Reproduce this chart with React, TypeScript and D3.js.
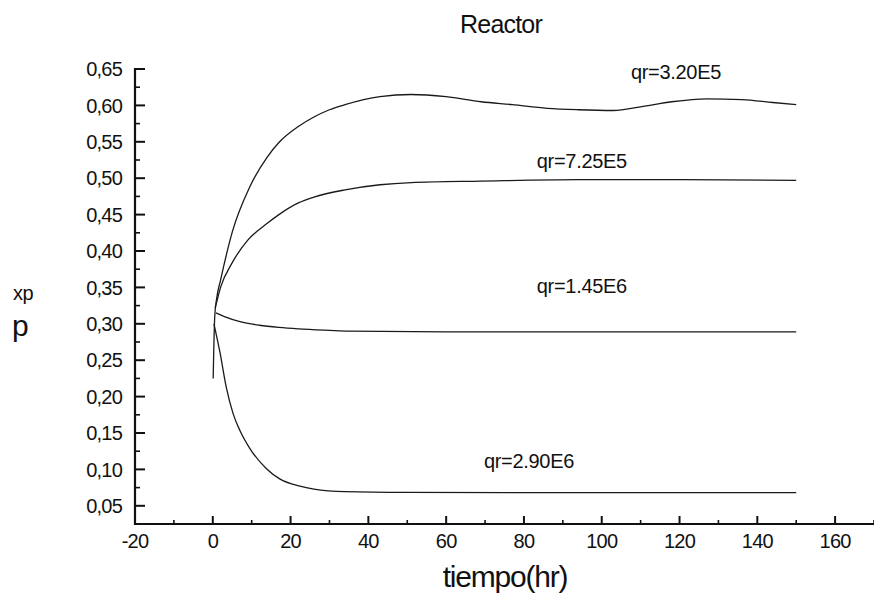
import React from "react";
import * as d3 from "d3";

// ---- Data ----
const seriesNames = ["qr=3.20E5", "qr=7.25E5", "qr=1.45E6", "qr=2.90E6"];

const tQr320 = [0.1, 0.5, 1, 2, 5, 9.5, 14, 17, 22, 26, 30, 34, 43, 51, 60, 69, 77, 86, 94, 103, 110, 118, 127, 136, 144, 150];
const xpQr320 = [0.225, 0.31, 0.335, 0.36, 0.426, 0.488, 0.529, 0.549, 0.571, 0.584, 0.594, 0.601, 0.612, 0.615, 0.612, 0.605, 0.601, 0.596, 0.594, 0.593, 0.598, 0.605, 0.609, 0.608, 0.604, 0.601];

const tQr725 = [0.6, 1, 2, 5, 9, 14, 17, 22, 26, 34, 43, 51, 69, 94, 120, 150];
const xpQr725 = [0.322, 0.33, 0.35, 0.384, 0.415, 0.438, 0.45, 0.466, 0.474, 0.484, 0.491, 0.494, 0.496, 0.498, 0.498, 0.497];

const tQr145 = [0.8, 3, 7, 12, 17, 22, 30, 35, 60, 100, 150];
const xpQr145 = [0.315, 0.31, 0.303, 0.298, 0.295, 0.293, 0.291, 0.29, 0.289, 0.289, 0.289];

const tQr290 = [0.3, 1.8, 3.5, 5.2, 7, 9.5, 13.8, 17.2, 22.4, 26, 34, 50, 100, 150];
const xpQr290 = [0.3, 0.262, 0.212, 0.177, 0.153, 0.129, 0.101, 0.087, 0.077, 0.073, 0.0695, 0.0685, 0.068, 0.068];

// label anchors in data units
const labelT = [107.5, 83.3, 83.3, 69.7];
const labelV = [0.636, 0.514, 0.342, 0.102];

const xMajorTicks = [-20, 0, 20, 40, 60, 80, 100, 120, 140, 160];
const xMinorTicks = [-10, 10, 30, 50, 70, 90, 110, 130, 150, 170];
const yMajorTicks = [0.05, 0.1, 0.15, 0.2, 0.25, 0.3, 0.35, 0.4, 0.45, 0.5, 0.55, 0.6, 0.65];
const yMinorTicks = [0.075, 0.125, 0.175, 0.225, 0.275, 0.325, 0.375, 0.425, 0.475, 0.525, 0.575, 0.625];

const W = 874;
const H = 600;
const FONT = "'Liberation Sans', Arial, sans-serif";

const locale = d3.formatLocale({
  decimal: ",",
  thousands: ".",
  grouping: [3],
  currency: ["", ""],
  minus: "-",
});
const fmtY = locale.format(".2f");
const fmtX = locale.format("d");

export default function App() {
  const x = d3.scaleLinear().domain([-20, 170]).range([135, 874]);
  const y = d3.scaleLinear().domain([0.025, 0.65]).range([524, 69]);

  const line = d3
    .line<[number, number]>()
    .x((d) => x(d[0]))
    .y((d) => y(d[1]))
    .curve(d3.curveMonotoneX);

  const series: [number, number][][] = [
    tQr320.map((t, i) => [t, xpQr320[i]]),
    tQr725.map((t, i) => [t, xpQr725[i]]),
    tQr145.map((t, i) => [t, xpQr145[i]]),
    tQr290.map((t, i) => [t, xpQr290[i]]),
  ];

  const x0 = x.range()[0];
  const yBase = y.range()[0];

  return (
    <svg
      width={W}
      height={H}
      style={{ position: "absolute", left: 0, top: 0, background: "#fff" }}
      fontFamily={FONT}
    >
      <rect x={0} y={0} width={W} height={H} fill="#fff" />
      {/* title */}
      <text x={501} y={33} fontSize={25} textAnchor="middle" letterSpacing={-0.8} fill="#111">
        Reactor
      </text>

      {/* curves */}
      {series.map((s, i) => (
        <path key={i} d={line(s) || ""} fill="none" stroke="#1a1a1a" strokeWidth={1.3} />
      ))}

      {/* series labels */}
      {seriesNames.map((n, i) => (
        <text
          key={n}
          x={x(labelT[i])}
          y={y(labelV[i])}
          fontSize={20}
          letterSpacing={-0.3}
          fill="#111"
        >
          {n}
        </text>
      ))}

      {/* y axis */}
      <line x1={x0} x2={x0} y1={y(0.65) - 1} y2={yBase + 1} stroke="#111" strokeWidth={2.2} />
      {yMajorTicks.map((v) => (
        <g key={"ym" + v}>
          <line x1={x0} x2={x0 + 10} y1={y(v)} y2={y(v)} stroke="#111" strokeWidth={2} />
          <text
            x={x0 - 13}
            y={y(v)}
            dy="0.36em"
            fontSize={20}
            textAnchor="end"
            letterSpacing={-0.8}
            fill="#111"
          >
            {fmtY(v)}
          </text>
        </g>
      ))}
      {yMinorTicks.map((v) => (
        <line key={"yn" + v} x1={x0} x2={x0 + 5} y1={y(v)} y2={y(v)} stroke="#111" strokeWidth={1.6} />
      ))}

      {/* x axis */}
      <line x1={x0 - 1} x2={W} y1={yBase} y2={yBase} stroke="#111" strokeWidth={2.2} />
      {xMajorTicks.map((t) => (
        <g key={"xm" + t}>
          <line x1={x(t)} x2={x(t)} y1={yBase} y2={yBase - 8} stroke="#111" strokeWidth={2} />
          <text x={x(t)} y={548} fontSize={20} textAnchor="middle" letterSpacing={-0.8} fill="#111">
            {fmtX(t)}
          </text>
        </g>
      ))}
      {xMinorTicks.map((t) => (
        <line key={"xn" + t} x1={x(t)} x2={x(t)} y1={yBase} y2={yBase - 4} stroke="#111" strokeWidth={1.6} />
      ))}

      {/* axis titles */}
      <text x={505} y={587} fontSize={30} textAnchor="middle" letterSpacing={-1.2} fill="#111">
        tiempo(hr)
      </text>
      <text x={13} y={300} fontSize={20} letterSpacing={-0.5} fill="#111">
        xp
      </text>
      <text x={12} y={336} fontSize={30} fill="#111">
        p
      </text>
    </svg>
  );
}
